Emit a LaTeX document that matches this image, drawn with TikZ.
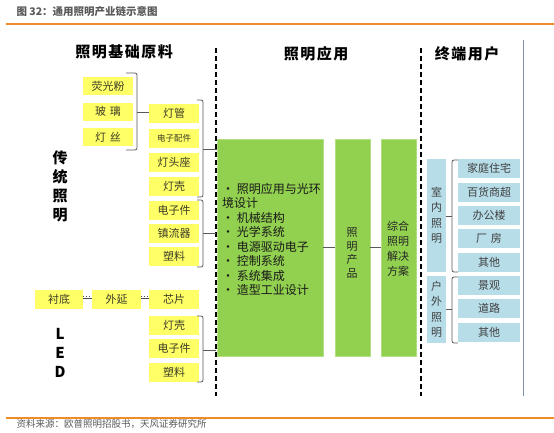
\documentclass[tikz,border=0pt]{standalone}
\usepackage{fontspec}
\setmainfont{Noto Sans CJK SC}
\definecolor{yel}{RGB}{255,255,102}
\definecolor{ytxt}{RGB}{60,60,40}
\definecolor{grn}{RGB}{146,208,80}
\definecolor{blu}{RGB}{183,221,232}
\definecolor{btxt}{RGB}{64,64,64}
\definecolor{org}{RGB}{240,140,40}
\definecolor{brc}{RGB}{89,89,89}
\definecolor{rline}{RGB}{130,145,170}
\begin{document}
\begin{tikzpicture}[x=1pt,y=-1pt,
  ybox/.style={fill=yel, minimum width=50pt, minimum height=19pt, inner sep=0pt, text=ytxt, font=\fontsize{11}{11}\selectfont},
  bbox/.style={fill=blu, minimum width=62pt, minimum height=19pt, inner sep=0pt, text=btxt, font=\fontsize{11}{11}\selectfont},
  gbox/.style={fill=grn, draw=grn!70!white, line width=0.6pt},
  brace/.style={draw=brc, line width=0.8pt, rounded corners=2pt},
  tick/.style={draw=brc, line width=0.8pt},
  divider/.style={draw=black, line width=1.3pt, dash pattern=on 5pt off 3pt},
  header/.style={font=\fontsize{15}{15}\selectfont\bfseries\addfontfeatures{LetterSpace=10}, text=black},
  side/.style={font=\fontsize{15}{19}\selectfont\bfseries, align=center, text=black},
  vtext/.style={align=center, text=btxt, font=\fontsize{11}{15.5}\selectfont}
]
\useasboundingbox (0,0) rectangle (554,432);

% title and rules
\node[anchor=west, text=black!65, font=\fontsize{10.5}{10.5}\selectfont\bfseries] (title) at (13,12) {图 32：通用照明产业链示意图};
\draw[org, line width=1.2pt] (6,24) -- (554,24);
\draw[org, line width=1.2pt] (6,418) -- (554,418);
\node[anchor=west, text=black!65, font=\fontsize{9.5}{9.5}\selectfont] (src) at (13,423.5) {资料来源：欧普照明招股书，天风证券研究所};

% headers
\node[header] (h1) at (124,52) {照明基础原料};
\node[header] (h2) at (316,54) {照明应用};
\node[header] (h3) at (467,54) {终端用户};

% dividers
\draw[divider] (216,48) -- (216,396);
\draw[divider] (421,48) -- (421,396);
\draw[rline, line width=0.8pt] (523,40) -- (523,396);

% side labels
\node[side] (ct) at (60,186) {传\\统\\照\\明};
\node[side] (led) at (60,353) {L\\E\\D};

% column 1
\node[ybox, minimum height=18pt] (hgf) at (108,86) {荧光粉};
\node[ybox, minimum height=18pt] (bl) at (108,111.5) {玻\hspace{4pt}璃};
\node[ybox, minimum height=18pt] (ds) at (108,137) {灯\hspace{4pt}丝};

% column 2
\node[ybox] (dg) at (174,113) {灯管};
\node[ybox, font=\fontsize{8.5}{8.5}\selectfont] (dzpj) at (174,138.5) {电子配件};
\node[ybox] (dtz) at (174,162.5) {灯头座};
\node[ybox] (dk) at (174,186.5) {灯壳};
\node[ybox] (dzj) at (174,210.5) {电子件};
\node[ybox] (zlq) at (174,233.5) {镇流器};
\node[ybox] (sl) at (174,256.5) {塑料};
\node[ybox] (xp) at (174,299.5) {芯片};
\node[ybox, minimum width=49pt] (wy) at (116.5,299.5) {外延};
\node[ybox, minimum width=48pt] (cd) at (59,299.5) {衬底};
\node[ybox] (ldk) at (174,325) {灯壳};
\node[ybox] (ldz) at (174,348) {电子件};
\node[ybox] (lsl) at (174,372.5) {塑料};

% dotted links
\draw[black!70, line width=1pt, dotted] ([yshift=3.5pt]cd.east) -- ([yshift=3.5pt]wy.west);
\draw[black!70, line width=0.5pt] ([yshift=1.2pt]cd.east) -- ([yshift=1.2pt]wy.west);
\draw[black!70, line width=1pt, dotted] ([yshift=3.5pt]wy.east) -- ([yshift=3.5pt]xp.west);
\draw[black!70, line width=0.5pt] ([yshift=1.2pt]wy.east) -- ([yshift=1.2pt]xp.west);

% green boxes
\node[gbox, minimum width=106pt, minimum height=217pt, anchor=north west] (g1) at (217,139) {};
\node[gbox, minimum width=35pt, minimum height=217pt, anchor=north west] (g2) at (334.5,139) {};
\node[gbox, minimum width=35pt, minimum height=217pt, anchor=north west] (g3) at (380.5,139) {};
\node[anchor=north west, align=left, text=black!90, font=\fontsize{12}{14.5}\selectfont, inner sep=0pt] (g1t) at (222,183)
 {• 照明应用与光环\\境设计\\• 机械结构\\• 光学系统\\• 电源驱动电子\\• 控制系统\\• 系统集成\\• 造型工业设计};
\node[align=center, text=black!85, font=\fontsize{11}{13.5}\selectfont] (g2t) at (352,253) {照\\明\\产\\品};
\node[align=center, text=black!85, font=\fontsize{11}{15}\selectfont] (g3t) at (398,248.5) {综合\\照明\\解决\\方案};
\coordinate (ga) at (323,247);
\coordinate (gb) at (334.5,247);
\coordinate (gc) at (369.5,247);
\coordinate (gd) at (380.5,247);
\draw[brc, line width=0.8pt] (ga) -- (gb);
\draw[brc, line width=0.8pt] (gc) -- (gd);

% blue boxes
\node[fill=blu, minimum width=19pt, minimum height=113pt, inner sep=0pt] (snzm) at (436.5,215.5) {};
\node[vtext] at (snzm) {室\\内\\照\\明};
\node[fill=blu, minimum width=19pt, minimum height=67pt, inner sep=0pt] (hwzm) at (436.5,309.5) {};
\node[vtext] at (hwzm) {户\\外\\照\\明};
\node[bbox] (jt) at (489,168.5) {家庭住宅};
\node[bbox] (bh) at (489,192.5) {百货商超};
\node[bbox] (bg) at (489,215.5) {办公楼};
\node[bbox] (cf) at (489,238.5) {厂\hspace{4pt}房};
\node[bbox] (qt1) at (489,262.5) {其他};
\node[bbox] (jg) at (489,285.5) {景观};
\node[bbox] (dl) at (489,308.5) {道路};
\node[bbox] (qt2) at (489,332.5) {其他};

% braces (left side)
\draw[brace] (126,73) -- (137,73) -- (137,150) -- (126,150);
\coordinate (b1) at (137,112);
\draw[tick] (b1) -- (b1 -| dg.west);
\draw[brace] (197,100) -- (203,100) -- (203,197) -- (197,197);
\coordinate (b2) at (203,149);
\draw[tick] (b2) -- (b2 -| g1.west);
\draw[brace] (197,200) -- (203,200) -- (203,267) -- (197,267);
\coordinate (b3) at (203,233);
\coordinate (b3e) at (216,233);
\draw[tick] (b3) -- (b3e);
\draw[brace] (197,316) -- (203,316) -- (203,382) -- (197,382);
\coordinate (b4) at (203,350);
\coordinate (b4e) at (216,350);
\draw[tick] (b4) -- (b4e);

% braces (right side)
\draw[brace] (458,160) -- (452,160) -- (452,272) -- (458,272);
\coordinate (b5) at (452,216);
\draw[tick] (b5) -- (b5 -| snzm.east);
\draw[brace] (458,277) -- (452,277) -- (452,343) -- (458,343);
\coordinate (b6) at (452,309);
\draw[tick] (b6) -- (b6 -| hwzm.east);
\end{tikzpicture}
\end{document}
